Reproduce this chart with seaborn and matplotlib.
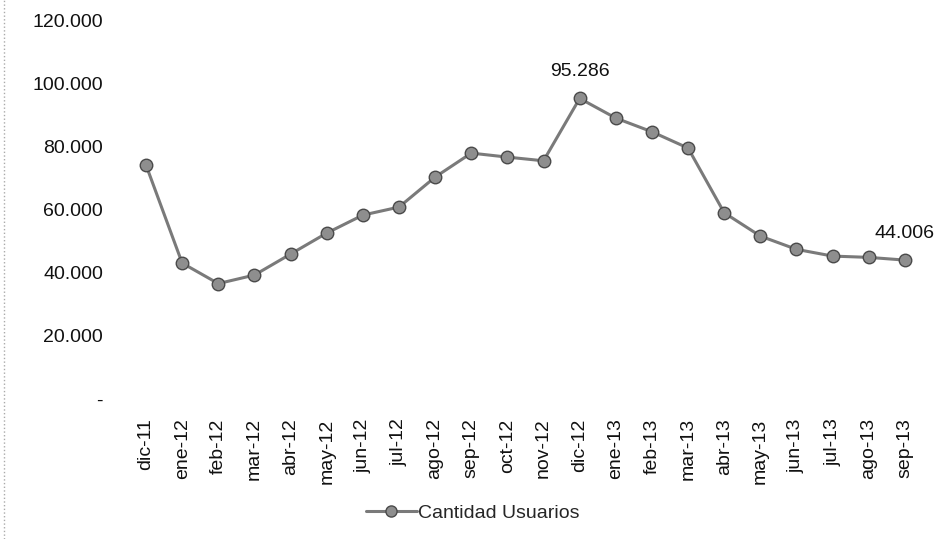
import matplotlib
matplotlib.use("Agg")
import matplotlib.pyplot as plt
import seaborn as sns
import pandas as pd
from matplotlib.lines import Line2D

meses = ["dic-11", "ene-12", "feb-12", "mar-12", "abr-12", "may-12", "jun-12",
         "jul-12", "ago-12", "sep-12", "oct-12", "nov-12", "dic-12", "ene-13",
         "feb-13", "mar-13", "abr-13", "may-13", "jun-13", "jul-13", "ago-13",
         "sep-13"]
usuarios = [74140, 43060, 36560, 39260, 45920, 52570, 58280, 60820, 70330,
            77940, 76670, 75500, 95286, 89040, 84700, 79530, 59010, 51620,
            47410, 45280, 44870, 44006]
y_ticks = [0, 20000, 40000, 60000, 80000, 100000, 120000]
y_labels = ["-", "20.000", "40.000", "60.000", "80.000", "100.000", "120.000"]
etiquetas = {"dic-12": "95.286", "sep-13": "44.006"}

df = pd.DataFrame({"Mes": meses, "Cantidad Usuarios": usuarios})

sns.set_style("white")
plt.rcParams["font.family"] = ["Liberation Sans", "DejaVu Sans"]

fig = plt.figure(figsize=(9.45, 5.39), dpi=100)
ax = fig.add_axes([0.1354, 0.260, 0.8413, 0.702])

sns.lineplot(data=df, x="Mes", y="Cantidad Usuarios", ax=ax, sort=False,
             color="#7a7a7a", linewidth=2.2, marker="o", markersize=9,
             markerfacecolor="#8e8e8e", markeredgecolor="#4a4a4a",
             markeredgewidth=1.0)

for mes, txt in etiquetas.items():
    i = meses.index(mes)
    ax.annotate(txt, (i, usuarios[i]), xytext=(0, 13), textcoords="offset points",
                ha="center", va="bottom", fontsize=14, color="#111111")

ax.set_xlim(-0.5, len(meses) - 0.5)
ax.set_ylim(0, 120000)
ax.set_yticks(y_ticks)
ax.set_yticklabels(y_labels, fontsize=14, color="#111111")
ax.tick_params(axis="x", labelrotation=90, labelsize=14, colors="#111111", pad=14)
ax.tick_params(axis="y", pad=18, length=0)
ax.tick_params(axis="x", length=0)
ax.set_xlabel("")
ax.set_ylabel("")
for s in ax.spines.values():
    s.set_visible(False)

handle = Line2D([], [], color="#7a7a7a", linewidth=2.2, marker="o", markersize=8,
                markerfacecolor="#8e8e8e", markeredgecolor="#4a4a4a")
fig.legend([handle], ["Cantidad Usuarios"], loc="center", bbox_to_anchor=(0.5, 0.048),
           frameon=False, fontsize=14, handlelength=2.6, handletextpad=0.05)

# borde punteado del escaneo
fig.add_artist(Line2D([0.004, 0.004], [0.0, 1.0], transform=fig.transFigure,
                      color="#aaaaaa", linestyle=":", linewidth=1))

fig.savefig("out.png", dpi=100)
